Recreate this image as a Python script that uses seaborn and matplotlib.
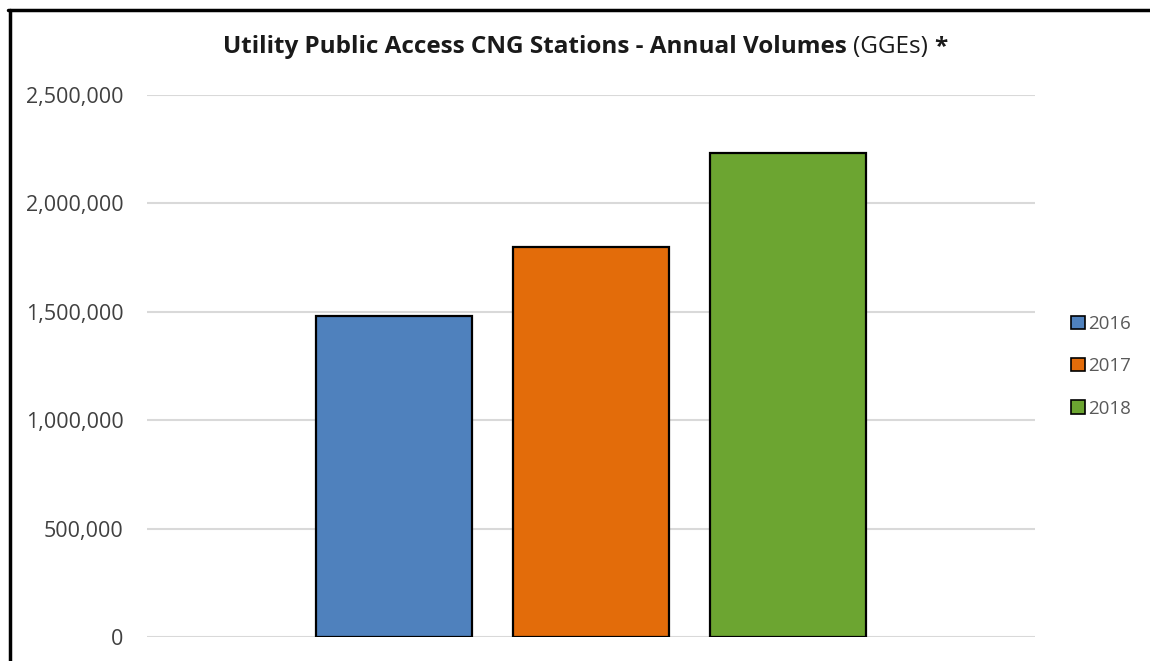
import numpy as np
import pandas as pd
import seaborn as sns
import matplotlib.pyplot as plt
from matplotlib.lines import Line2D
from matplotlib.patches import Patch

# values
years = ['2016', '2017', '2018']
volumes = [1480000, 1797000, 2231000]
bar_colors = ['#4F81BD', '#E36C0A', '#6CA531']
ytick_vals = [0, 500000, 1000000, 1500000, 2000000, 2500000]

df = pd.DataFrame({'year': years, 'volume': volumes})

sns.set_theme(style='white')
plt.rcParams['font.family'] = ['Open Sans', 'DejaVu Sans']

fig = plt.figure(figsize=(11.5, 6.61), dpi=100)
ax = fig.add_axes([0.1278, 0.0363, 0.9 - 0.1278, 0.8563 - 0.0363])

sns.barplot(data=df, x='year', y='volume', hue='year', palette=bar_colors, saturation=1,
            width=0.79, edgecolor='black', linewidth=1.6, legend=False, ax=ax, zorder=3)

ax.set_xlim(-1.25, 3.25)
ax.set_ylim(0, 2500000)
ax.set_yticks(ytick_vals)
ax.set_yticklabels([f'{v:,}' for v in ytick_vals], fontsize=15.5, color='#404040')
ax.tick_params(axis='y', pad=17, length=0)
ax.set_xticks([])
ax.set_xlabel('')
ax.set_ylabel('')
ax.yaxis.grid(True, color='#D9D9D9', linewidth=1.5, zorder=0)
for s in ax.spines.values():
    s.set_visible(False)

# legend on the right
handles = [Patch(facecolor=c, edgecolor='black', linewidth=1.2, label=y) for c, y in zip(bar_colors, years)]
leg = fig.legend(handles=handles, loc='center left', bbox_to_anchor=(0.917, 0.446),
                 frameon=False, fontsize=13.5, handlelength=0.7, handleheight=0.7,
                 handletextpad=0.2, labelspacing=1.3)
for t in leg.get_texts():
    t.set_color('#595959')

# title: bold parts with a normal "(GGEs)"
fig.canvas.draw()
renderer = fig.canvas.get_renderer()
parts = [('Utility Public Access CNG Stations - Annual Volumes ', 'bold'),
         ('(GGEs) ', 'normal'), ('*', 'bold')]
texts = []
for txt, w in parts:
    texts.append(fig.text(0, 1 - 47 / 661, txt, fontsize=17.5, fontweight=w, color='#1a1a1a',
                          va='center', ha='left'))
widths = [t.get_window_extent(renderer).width for t in texts]
total = sum(widths)
x = 585 - total / 2
for t, wd in zip(texts, widths):
    t.set_x(x / 1150)
    x += wd

# outer frame (left and top edges visible)
fig.add_artist(Line2D([9.5 / 1150, 9.5 / 1150], [0, 1 - 9.5 / 661], color='black', linewidth=2.5,
                      transform=fig.transFigure))
fig.add_artist(Line2D([8 / 1150, 1], [1 - 9.5 / 661, 1 - 9.5 / 661], color='black', linewidth=2.5,
                      transform=fig.transFigure))

fig.savefig('out.png', dpi=100)
